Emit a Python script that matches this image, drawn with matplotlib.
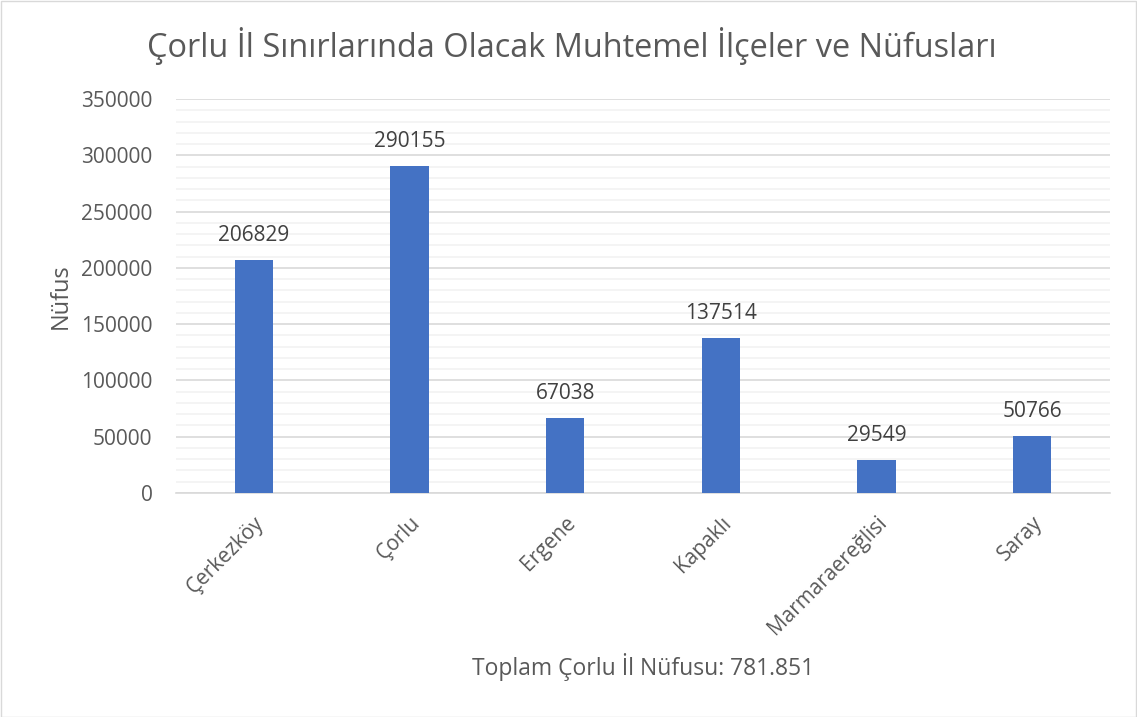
import matplotlib
matplotlib.use("Agg")
import matplotlib.pyplot as plt
from matplotlib.ticker import MultipleLocator
import numpy as np

categories = ["Çerkezköy", "Çorlu", "Ergene", "Kapaklı", "Marmaraereğlisi", "Saray"]
values = [206829, 290155, 67038, 137514, 29549, 50766]
title = "Çorlu İl Sınırlarında Olacak Muhtemel İlçeler ve Nüfusları"
ylabel = "Nüfus"
xlabel = "Toplam Çorlu İl Nüfusu: 781.851"

plt.rcParams['font.family'] = ['Open Sans', 'DejaVu Sans']
txt = '#595959'

fig = plt.figure(figsize=(11.37, 7.17), dpi=100)
fig.patches.append(plt.Rectangle((0.0005, 0.0005), 0.999, 0.998, transform=fig.transFigure,
                                 fill=False, edgecolor='#d9d9d9', linewidth=1))
ax = fig.add_axes([0.1548, 0.3124, 0.8215, 0.5495])

x = np.arange(len(categories))
ax.bar(x, values, width=0.245, color='#4472C4', zorder=3)
for xi, v in zip(x, values):
    ax.annotate(str(v), (xi, v), xytext=(0, 10), textcoords='offset points',
                ha='center', va='bottom', fontsize=15, color='#404040')

ax.set_xlim(-0.5, len(categories) - 0.5)
ax.set_ylim(0, 350000)
ax.yaxis.set_major_locator(MultipleLocator(50000))
ax.yaxis.set_minor_locator(MultipleLocator(10000))
ax.grid(which='major', axis='y', color='#d9d9d9', linewidth=1.2, zorder=0)
ax.grid(which='minor', axis='y', color='#f2f2f2', linewidth=1.2, zorder=0)
for s in ['top', 'right', 'left']:
    ax.spines[s].set_visible(False)
ax.spines['bottom'].set_color('#d9d9d9')
ax.spines['bottom'].set_linewidth(1.2)
ax.tick_params(axis='both', which='both', length=0, labelsize=15, colors=txt)
ax.tick_params(axis='y', pad=17)
ax.set_xticks(x)
ax.set_xticklabels(categories, rotation=45, ha='right', rotation_mode='anchor')
ax.tick_params(axis='x', pad=14)

ax.set_ylabel(ylabel, fontsize=17, color=txt, labelpad=6)
ax.set_xlabel(xlabel, fontsize=16.5, color=txt, labelpad=10)
fig.suptitle(title, fontsize=23.4, color=txt, y=0.963, x=0.503)

fig.savefig("out.png", dpi=100)
